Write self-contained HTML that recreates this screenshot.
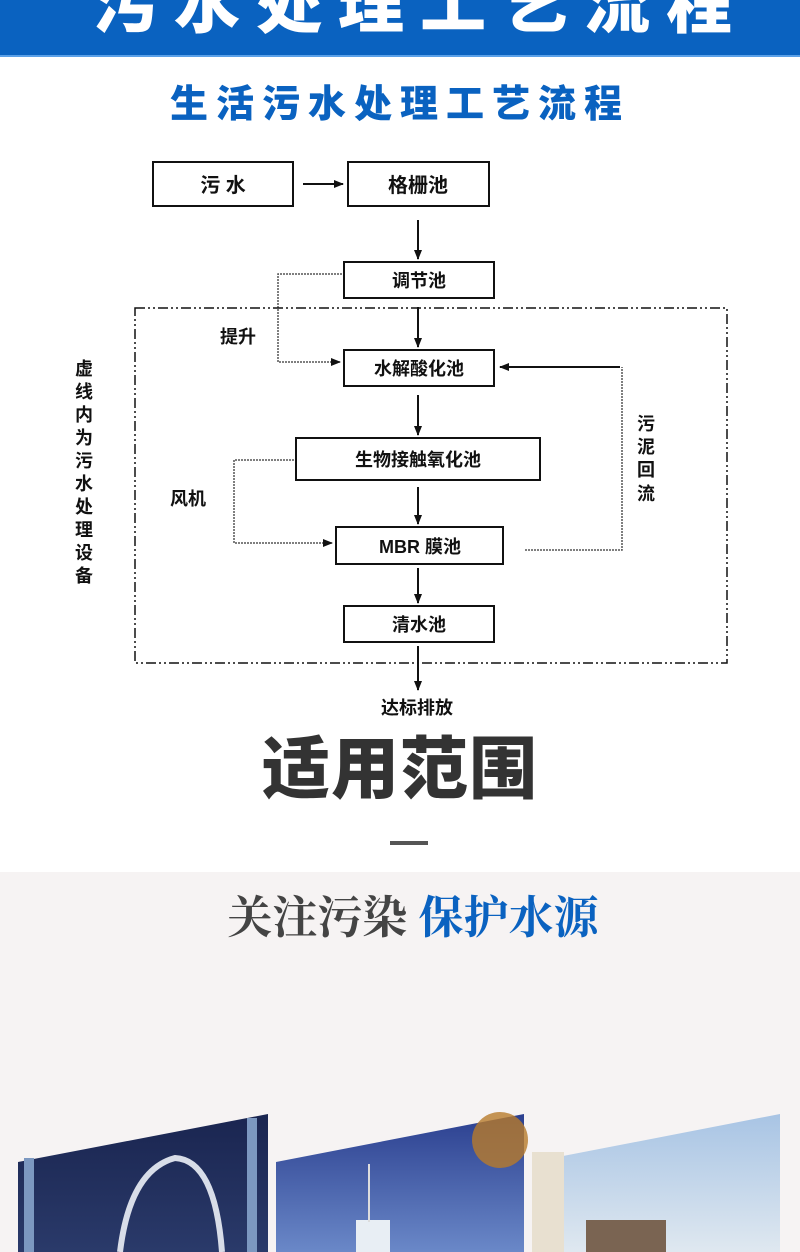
<!DOCTYPE html>
<html><head><meta charset="utf-8"><style>
body{margin:0;width:800px;height:1252px;position:relative;overflow:hidden;background:#fff;font-family:"Liberation Sans","Noto Sans CJK SC",sans-serif}
.a{position:absolute}
</style></head><body>
<div class="a" style="left:0;top:0;width:800px;height:55px;background:#0a62c0;border-bottom:2px solid #5aa0e8"></div>
<div class="a" style="left:0;top:-32px;width:800px;padding-left:40px;box-sizing:border-box;text-align:center;color:#fff;font-size:66px;font-weight:900;letter-spacing:16px;line-height:72px">污水处理工艺流程</div>
<div class="a" style="left:0;top:82px;width:800px;padding-left:-10px;box-sizing:border-box;text-align:center;color:#0a62c0;font-size:38px;font-weight:900;letter-spacing:8px;line-height:46px">生活污水处理工艺流程</div>

<svg class="a" style="left:0;top:140px" width="800" height="590" viewBox="0 140 800 590">
<defs><marker id="m" markerWidth="10" markerHeight="10" refX="9" refY="5" orient="auto" markerUnits="userSpaceOnUse"><path d="M0,1 L10,5 L0,9z" fill="#111"/></marker></defs>
<g fill="none" stroke="#111" stroke-width="2">
<rect x="153" y="162" width="140" height="44"/>
<rect x="348" y="162" width="141" height="44"/>
<rect x="344" y="262" width="150" height="36"/>
<rect x="344" y="350" width="150" height="36"/>
<rect x="296" y="438" width="244" height="42"/>
<rect x="336" y="527" width="167" height="37"/>
<rect x="344" y="606" width="150" height="36"/>
<line x1="303" y1="184" x2="343" y2="184" marker-end="url(#m)"/>
<line x1="418" y1="220" x2="418" y2="259" marker-end="url(#m)"/>
<line x1="418" y1="307" x2="418" y2="347" marker-end="url(#m)"/>
<line x1="418" y1="395" x2="418" y2="435" marker-end="url(#m)"/>
<line x1="418" y1="487" x2="418" y2="524" marker-end="url(#m)"/>
<line x1="418" y1="568" x2="418" y2="603" marker-end="url(#m)"/>
<line x1="418" y1="646" x2="418" y2="690" marker-end="url(#m)"/>
<polyline points="620,367 500,367" marker-end="url(#m)"/>
</g>
<g fill="none" stroke="#555" stroke-width="1.5" stroke-dasharray="2,1">
<polyline points="342,274 278,274 278,362 340,362" marker-end="url(#m)"/>
<polyline points="294,460 234,460 234,543 332,543" marker-end="url(#m)"/>
<polyline points="525,550 622,550 622,367"/>
</g>
<rect x="135" y="308" width="592" height="355" fill="none" stroke="#111" stroke-width="1.5" stroke-dasharray="10,3,2,3,2,3"/>
<g font-family="Liberation Sans,Noto Sans CJK SC,sans-serif" font-weight="bold" fill="#111" text-anchor="middle">
<text x="223" y="192" font-size="20">污 水</text>
<text x="418" y="192" font-size="20">格栅池</text>
<text x="419" y="287" font-size="18">调节池</text>
<text x="419" y="375" font-size="18">水解酸化池</text>
<text x="418" y="466" font-size="18">生物接触氧化池</text>
<text x="420" y="553" font-size="18">MBR 膜池</text>
<text x="419" y="631" font-size="18">清水池</text>
<text x="417" y="714" font-size="18">达标排放</text>
<text x="238" y="343" font-size="18">提升</text>
<text x="188" y="505" font-size="18">风机</text>
<text x="646" y="430" font-size="18">污</text>
<text x="646" y="453" font-size="18">泥</text>
<text x="646" y="476" font-size="18">回</text>
<text x="646" y="500" font-size="18">流</text>
<g font-size="18">
<text x="84" y="375">虚</text><text x="84" y="398">线</text><text x="84" y="421">内</text><text x="84" y="444">为</text><text x="84" y="467">污</text><text x="84" y="490">水</text><text x="84" y="513">处</text><text x="84" y="536">理</text><text x="84" y="559">设</text><text x="84" y="582">备</text>
</g>
</g>
</svg>

<div class="a" style="left:0;top:732px;width:800px;text-align:center;color:#333;font-size:68px;font-weight:900;line-height:76px;letter-spacing:1px">适用范围</div>
<div class="a" style="left:390px;top:841px;width:38px;height:4px;background:#555"></div>
<div class="a" style="left:0;top:872px;width:800px;height:380px;background:#f6f3f3"></div>
<div class="a" style="left:0;top:890px;width:800px;text-align:center;font-family:'Liberation Serif','Noto Serif CJK SC',serif;font-size:45px;font-weight:bold;line-height:56px;padding-left:26px;box-sizing:border-box"><span style="color:#444">关注污染</span>&nbsp;<span style="color:#0a62c0">保护水源</span></div>

<svg class="a" style="left:0;top:1100px" width="800" height="152">
<defs>
<linearGradient id="g1" x1="0" y1="0" x2="0" y2="1"><stop offset="0" stop-color="#1a2550"/><stop offset="1" stop-color="#2a3a6a"/></linearGradient>
<linearGradient id="g2" x1="0" y1="0" x2="0" y2="1"><stop offset="0" stop-color="#2b3f8f"/><stop offset="1" stop-color="#6a88c8"/></linearGradient>
<linearGradient id="g3" x1="0" y1="0" x2="0" y2="1"><stop offset="0" stop-color="#a8c4e4"/><stop offset="1" stop-color="#dfe8f0"/></linearGradient>
</defs>
<polygon points="18,62 268,14 268,152 18,152" fill="url(#g1)"/>
<rect x="24" y="58" width="10" height="94" fill="#7c98c0"/>
<rect x="247" y="18" width="10" height="134" fill="#7c98c0"/>
<path d="M120,152 Q130,70 175,58 Q215,60 222,152" fill="none" stroke="#d8dde8" stroke-width="6"/>
<polygon points="276,62 524,14 524,152 276,152" fill="url(#g2)"/>
<circle cx="500" cy="40" r="28" fill="#b87a2a" opacity=".8"/>
<rect x="356" y="120" width="34" height="32" fill="#e8eef4"/>
<rect x="368" y="64" width="2" height="58" fill="#ddd"/>
<polygon points="532,62 780,14 780,152 532,152" fill="url(#g3)"/>
<rect x="532" y="52" width="32" height="100" fill="#e8e0d0"/>
<rect x="586" y="120" width="80" height="32" fill="#7a6452"/>
</svg>
</body></html>
